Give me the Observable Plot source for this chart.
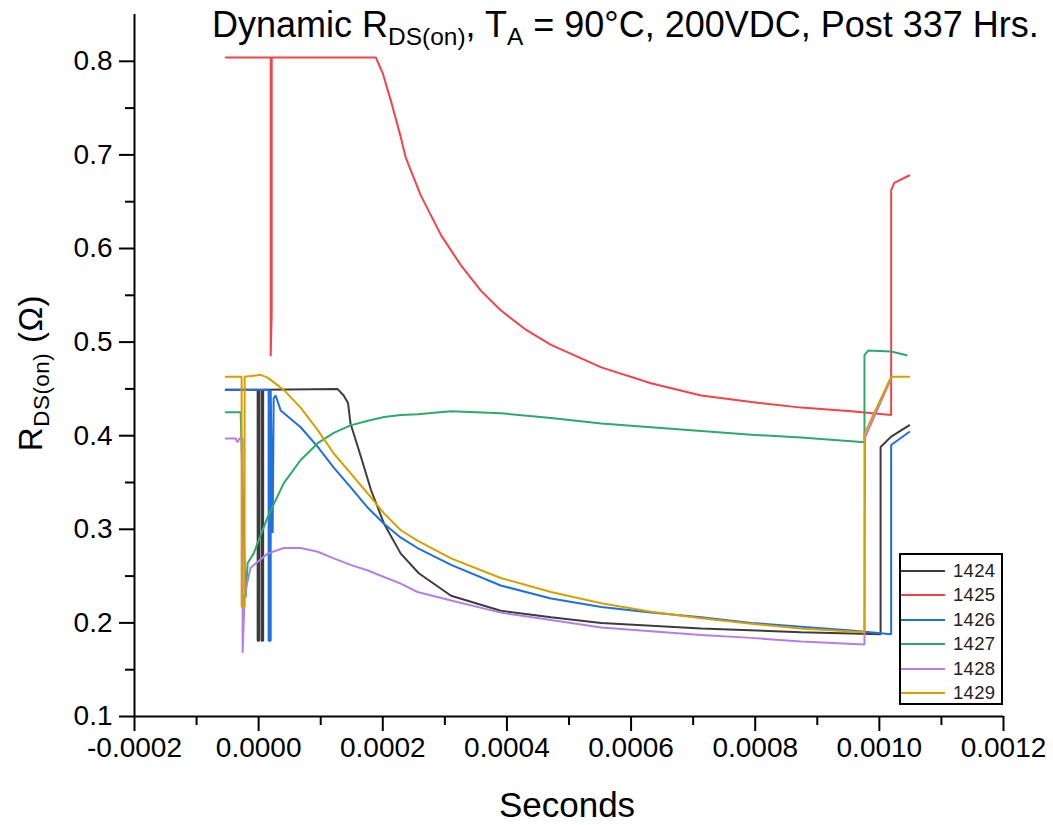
<!DOCTYPE html>
<html>
<head>
<meta charset="utf-8">
<script src="https://cdn.jsdelivr.net/npm/d3@7"></script>
<script src="https://cdn.jsdelivr.net/npm/@observablehq/plot@0.6"></script>
<style>
  html, body { margin: 0; padding: 0; background: #fff; }
  #wrap { position: relative; width: 1053px; height: 825px; font-family: "Liberation Sans", Arial, sans-serif; color: #000; }
  #chart { position: absolute; left: 0; top: 0; }
  .sub { font-size: 0.68em; position: relative; top: 0.32em; }
  #title { position: absolute; left: 0; width: 1053px; top: 4px; padding-left: 212px; box-sizing: border-box; font-size: 36px; white-space: nowrap; letter-spacing: 0px; }
  #ylab { position: absolute; left: 31px; top: 373px; transform: translate(-50%, -50%) rotate(-90deg); font-size: 33px; white-space: nowrap; letter-spacing: 0.5px; }
  #xlab { position: absolute; left: 567px; top: 785px; transform: translateX(-50%); font-size: 35px; white-space: nowrap; }
  #legend { position: absolute; left: 899px; top: 553px; width: 100px; height: 148px; border: 2px solid #000; background: #fff; }
  .lrow { position: absolute; left: 0; height: 20px; width: 100px; }
  .lrow .sw { position: absolute; left: 0; top: 9px; width: 44px; height: 2px; }
  .lrow .lt { position: absolute; left: 52px; top: 0; font-size: 18.5px; line-height: 20px; color: #222; letter-spacing: 0.3px; }
</style>
</head>
<body>
<div id="wrap">
  <div id="chart"></div>
  <div id="title">Dynamic R<span class="sub">DS(on)</span>, T<span class="sub">A</span> = 90°C, 200VDC, Post 337 Hrs.</div>
  <div id="ylab">R<span class="sub">DS(on)</span> (Ω)</div>
  <div id="xlab">Seconds</div>
  <div id="legend"></div>
</div>
<script>
// Series names and colours
const seriesNames = ["1424", "1425", "1426", "1427", "1428", "1429"];
const seriesColors = ["#3c3c3c", "#f2434a", "#1f6fe0", "#2ea86b", "#b57ee6", "#d6a000"];

// Axis ticks
const xTicks = [-0.0002, 0, 0.0002, 0.0004, 0.0006, 0.0008, 0.0010, 0.0012];
const xMinor = [-0.0001, 0.0001, 0.0003, 0.0005, 0.0007, 0.0009, 0.0011];
const yTicks = [0.1, 0.2, 0.3, 0.4, 0.5, 0.6, 0.7, 0.8];
const yMinor = [0.15, 0.25, 0.35, 0.45, 0.55, 0.65, 0.75];

// 1424 (time in s, RDS(on) in ohm)
const t1424 = [-0.000053, -0.0000016, -0.0000016, 0.0000008, 0.0000008, 0.0000048, 0.0000048, 0.0000073, 0.0000073, 0.000127, 0.000137, 0.000144, 0.000148, 0.000165, 0.000181, 0.000202, 0.000229, 0.000258, 0.00031, 0.00039, 0.000471, 0.000552, 0.000713, 0.000874, 0.001002, 0.001002, 0.001019, 0.001048];
const r1424 = [0.449, 0.449, 0.181, 0.181, 0.449, 0.449, 0.181, 0.181, 0.449, 0.450, 0.443, 0.435, 0.413, 0.377, 0.342, 0.306, 0.274, 0.253, 0.229, 0.213, 0.206, 0.200, 0.194, 0.190, 0.188, 0.388, 0.399, 0.411];

// 1425
const t1425 = [-0.000053, 0.0000194, 0.0000194, 0.000021, 0.000021, 0.000189, 0.0002, 0.000213, 0.000229, 0.000237, 0.000261, 0.000294, 0.000326, 0.000358, 0.00039, 0.000431, 0.000471, 0.000552, 0.000632, 0.000713, 0.000794, 0.000874, 0.000955, 0.001019, 0.001019, 0.001024, 0.001048];
const r1425 = [0.804, 0.804, 0.485, 0.530, 0.804, 0.804, 0.787, 0.758, 0.719, 0.697, 0.657, 0.614, 0.582, 0.555, 0.534, 0.513, 0.497, 0.473, 0.456, 0.443, 0.436, 0.430, 0.426, 0.422, 0.662, 0.670, 0.678];

// 1426
const t1426 = [-0.000053, 0.0000161, 0.0000161, 0.0000194, 0.0000194, 0.0000226, 0.0000242, 0.0000274, 0.0000355, 0.0000677, 0.0000952, 0.000121, 0.000148, 0.000176, 0.000202, 0.000229, 0.000256, 0.00031, 0.00039, 0.000471, 0.000552, 0.000632, 0.000713, 0.000794, 0.000874, 0.000955, 0.001019, 0.001019, 0.001048];
const r1426 = [0.449, 0.449, 0.181, 0.181, 0.449, 0.296, 0.440, 0.443, 0.427, 0.409, 0.388, 0.366, 0.345, 0.323, 0.306, 0.291, 0.280, 0.262, 0.240, 0.226, 0.217, 0.211, 0.206, 0.200, 0.196, 0.192, 0.188, 0.390, 0.404];

// 1427
const t1427 = [-0.000053, -0.000029, -0.000021, -0.0000177, -0.0000081, 0.0000145, 0.0000403, 0.0000677, 0.0000952, 0.000121, 0.000148, 0.000176, 0.000202, 0.000229, 0.000256, 0.00031, 0.00039, 0.000471, 0.000552, 0.000632, 0.000713, 0.000794, 0.000874, 0.000976, 0.000976, 0.000982, 0.001019, 0.001044];
const r1427 = [0.425, 0.425, 0.227, 0.264, 0.274, 0.313, 0.349, 0.374, 0.392, 0.403, 0.411, 0.416, 0.420, 0.422, 0.423, 0.426, 0.424, 0.419, 0.413, 0.409, 0.405, 0.401, 0.398, 0.393, 0.486, 0.491, 0.490, 0.486];

// 1428
const t1428 = [-0.000053, -0.000037, -0.000034, -0.000031, -0.0000258, -0.0000258, -0.0000226, -0.0000194, -0.0000129, 0.0000145, 0.0000403, 0.0000677, 0.0000952, 0.000121, 0.000148, 0.000176, 0.000202, 0.000229, 0.000256, 0.00031, 0.00039, 0.000471, 0.000552, 0.000632, 0.000713, 0.000794, 0.000874, 0.000976, 0.000977, 0.001019];
const r1428 = [0.397, 0.397, 0.393, 0.397, 0.397, 0.168, 0.230, 0.240, 0.259, 0.274, 0.280, 0.280, 0.276, 0.269, 0.262, 0.256, 0.249, 0.242, 0.233, 0.224, 0.211, 0.203, 0.195, 0.191, 0.187, 0.184, 0.180, 0.177, 0.398, 0.461];

// 1429
const t1429 = [-0.000053, -0.0000274, -0.0000274, -0.0000226, -0.0000226, 0.0000032, 0.0000145, 0.0000403, 0.0000677, 0.0000952, 0.000121, 0.000148, 0.000176, 0.000202, 0.000229, 0.000256, 0.00031, 0.00039, 0.000471, 0.000552, 0.000632, 0.000713, 0.000794, 0.000874, 0.000976, 0.000976, 0.001019, 0.001048];
const r1429 = [0.463, 0.463, 0.217, 0.217, 0.463, 0.465, 0.462, 0.449, 0.430, 0.406, 0.381, 0.360, 0.338, 0.317, 0.299, 0.288, 0.269, 0.248, 0.233, 0.221, 0.212, 0.205, 0.199, 0.194, 0.190, 0.402, 0.463, 0.463];

const seriesT = [t1424, t1425, t1426, t1427, t1428, t1429];
const seriesR = [r1424, r1425, r1426, r1427, r1428, r1429];

const table = [];
seriesNames.forEach((name, i) => {
  seriesT[i].forEach((t, j) => table.push({series: name, t, r: seriesR[i][j]}));
});

const xFmt = d => d3.format(".4f")(d).replace("\u2212", "-");

const chart = Plot.plot({
  width: 1053,
  height: 825,
  marginLeft: 134,
  marginRight: 50,
  marginTop: 14,
  marginBottom: 109,
  style: {fontFamily: "'Liberation Sans', Arial, sans-serif", background: "white", color: "black"},
  x: {domain: [-0.0002, 0.0012], label: null},
  y: {domain: [0.1, 0.85], label: null},
  color: {domain: seriesNames, range: seriesColors},
  marks: [
    Plot.line(table, {x: "t", y: "r", z: "series", stroke: "series", strokeWidth: 2, strokeLinejoin: "miter"}),
    Plot.axisY(yTicks, {anchor: "left", tickSize: 15, tickPadding: 7, tickFormat: d3.format(".1f"), fontSize: 28, strokeWidth: 2, label: null}),
    Plot.axisY(yMinor, {anchor: "left", tickSize: 9, tickFormat: () => "", strokeWidth: 2, label: null}),
    Plot.axisX(xTicks, {anchor: "bottom", tickSize: 15, tickPadding: 6, tickFormat: xFmt, fontSize: 28, strokeWidth: 2, label: null}),
    Plot.axisX(xMinor, {anchor: "bottom", tickSize: 9, tickFormat: () => "", strokeWidth: 2, label: null}),
    Plot.ruleX([-0.0002], {strokeWidth: 2}),
    Plot.ruleY([0.1], {strokeWidth: 2})
  ]
});
document.getElementById("chart").appendChild(chart);

// Legend
const legend = document.getElementById("legend");
seriesNames.forEach((name, i) => {
  const row = document.createElement("div");
  row.className = "lrow";
  row.style.top = (6 + i * 24.4) + "px";
  const sw = document.createElement("div");
  sw.className = "sw";
  sw.style.background = seriesColors[i];
  const lt = document.createElement("div");
  lt.className = "lt";
  lt.textContent = name;
  row.appendChild(sw);
  row.appendChild(lt);
  legend.appendChild(row);
});
</script>
</body>
</html>
